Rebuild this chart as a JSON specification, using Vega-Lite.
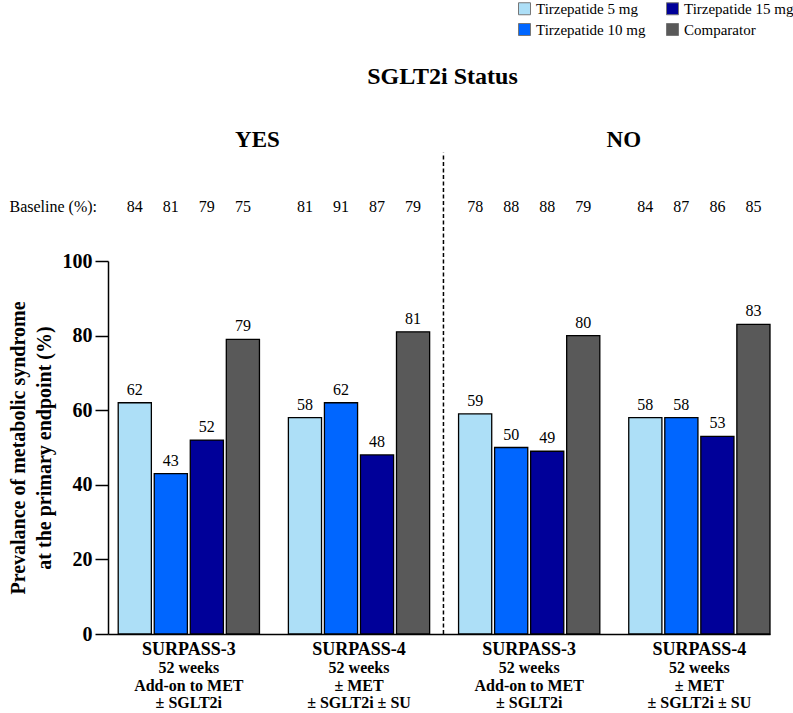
{
  "$schema": "https://vega.github.io/schema/vega-lite/v6.json",
  "width": 662,
  "height": 373,
  "autosize": {"type": "none"},
  "padding": {"left": 108, "top": 261, "right": 23, "bottom": 79},
  "background": "white",
  "config": {
    "font": "'Liberation Serif', 'Times New Roman', Times, serif",
    "text": {"font": "'Liberation Serif', 'Times New Roman', Times, serif"},
    "axis": {"labelFont": "'Liberation Serif', 'Times New Roman', Times, serif", "titleFont": "'Liberation Serif', 'Times New Roman', Times, serif"},
    "legend": {"padding": 0, "labelFont": "'Liberation Serif', 'Times New Roman', Times, serif", "titleFont": "'Liberation Serif', 'Times New Roman', Times, serif"},
    "view": {"stroke": null}
  },
  "datasets": {
    "bars": [
      {"group": "YES|SURPASS-3", "series": "Tirzepatide 5 mg", "value": 62, "baseline": 84},
      {"group": "YES|SURPASS-3", "series": "Tirzepatide 10 mg", "value": 43, "baseline": 81},
      {"group": "YES|SURPASS-3", "series": "Tirzepatide 15 mg", "value": 52, "baseline": 79},
      {"group": "YES|SURPASS-3", "series": "Comparator", "value": 79, "baseline": 75},
      {"group": "YES|SURPASS-4", "series": "Tirzepatide 5 mg", "value": 58, "baseline": 81},
      {"group": "YES|SURPASS-4", "series": "Tirzepatide 10 mg", "value": 62, "baseline": 91},
      {"group": "YES|SURPASS-4", "series": "Tirzepatide 15 mg", "value": 48, "baseline": 87},
      {"group": "YES|SURPASS-4", "series": "Comparator", "value": 81, "baseline": 79},
      {"group": "NO|SURPASS-3", "series": "Tirzepatide 5 mg", "value": 59, "baseline": 78},
      {"group": "NO|SURPASS-3", "series": "Tirzepatide 10 mg", "value": 50, "baseline": 88},
      {"group": "NO|SURPASS-3", "series": "Tirzepatide 15 mg", "value": 49, "baseline": 88},
      {"group": "NO|SURPASS-3", "series": "Comparator", "value": 80, "baseline": 79},
      {"group": "NO|SURPASS-4", "series": "Tirzepatide 5 mg", "value": 58, "baseline": 84},
      {"group": "NO|SURPASS-4", "series": "Tirzepatide 10 mg", "value": 58, "baseline": 87},
      {"group": "NO|SURPASS-4", "series": "Tirzepatide 15 mg", "value": 53, "baseline": 86},
      {"group": "NO|SURPASS-4", "series": "Comparator", "value": 83, "baseline": 85}
    ],
    "groups": [
      {"group": "YES|SURPASS-3", "details": "52 weeks\nAdd-on to MET\n± SGLT2i"},
      {"group": "YES|SURPASS-4", "details": "52 weeks\n± MET\n± SGLT2i ± SU"},
      {"group": "NO|SURPASS-3", "details": "52 weeks\nAdd-on to MET\n± SGLT2i"},
      {"group": "NO|SURPASS-4", "details": "52 weeks\n± MET\n± SGLT2i ± SU"}
    ],
    "notes": [{"note": "x"}]
  },
  "layer": [
    {
      "data": {"name": "bars"},
      "mark": {"type": "bar", "stroke": "black", "strokeWidth": 1.3},
      "encoding": {
        "x": {
          "field": "group", "type": "nominal",
          "scale": {
            "domain": ["YES|SURPASS-3", "YES|SURPASS-4", "NO|SURPASS-3", "NO|SURPASS-4"],
            "paddingInner": 0.17, "paddingOuter": 0.03, "align": 1
          },
          "axis": {
            "title": null,
            "labelExpr": "split(datum.label, '|')[1]",
            "labelFontSize": 18, "labelFontWeight": "bold", "labelColor": "black",
            "labelPadding": 6, "labelAngle": 0,
            "ticks": false, "domainColor": "black", "domainWidth": 1.5
          }
        },
        "xOffset": {
          "field": "series", "type": "nominal",
          "sort": ["Tirzepatide 5 mg", "Tirzepatide 10 mg", "Tirzepatide 15 mg", "Comparator"],
          "scale": {"paddingInner": 0.08, "paddingOuter": 0}
        },
        "y": {
          "field": "value", "type": "quantitative",
          "scale": {"domain": [0, 100], "nice": false},
          "axis": {
            "title": ["Prevalance of metabolic syndrome", "at the primary endpoint (%)"],
            "titleFontSize": 20, "titleFontWeight": "bold", "titleColor": "black",
            "titleLineHeight": 26, "titlePadding": 8,
            "values": [0, 20, 40, 60, 80, 100],
            "grid": false, "tickSize": 13, "tickColor": "black", "tickWidth": 1.5,
            "domainColor": "black", "domainWidth": 1.5,
            "labelFontSize": 20, "labelFontWeight": "bold", "labelColor": "black", "labelPadding": 3
          }
        },
        "color": {
          "field": "series", "type": "nominal",
          "scale": {
            "domain": ["Tirzepatide 5 mg", "Tirzepatide 10 mg", "Tirzepatide 15 mg", "Comparator"],
            "range": ["#ADDFF7", "#0066FF", "#000099", "#595959"]
          },
          "legend": {
            "title": null, "orient": "none", "legendX": 409, "legendY": -260,
            "columns": 2, "columnPadding": 18, "rowPadding": 4,
            "symbolType": "square", "symbolSize": 144, "symbolStrokeColor": "#777777",
            "symbolStrokeWidth": 1, "symbolOpacity": 1,
            "labelFontSize": 15, "labelColor": "black", "labelOffset": 4, "labelLimit": 200
          }
        }
      }
    },
    {
      "data": {"name": "bars"},
      "mark": {"type": "text", "baseline": "alphabetic", "dy": -8, "fontSize": 16, "color": "black"},
      "encoding": {
        "x": {"field": "group", "type": "nominal"},
        "xOffset": {"field": "series", "type": "nominal", "sort": ["Tirzepatide 5 mg", "Tirzepatide 10 mg", "Tirzepatide 15 mg", "Comparator"]},
        "y": {"field": "value", "type": "quantitative"},
        "text": {"field": "value", "type": "quantitative"}
      }
    },
    {
      "data": {"name": "bars"},
      "mark": {"type": "text", "baseline": "middle", "fontSize": 16, "color": "black"},
      "encoding": {
        "x": {"field": "group", "type": "nominal"},
        "xOffset": {"field": "series", "type": "nominal", "sort": ["Tirzepatide 5 mg", "Tirzepatide 10 mg", "Tirzepatide 15 mg", "Comparator"]},
        "y": {"datum": 114.5},
        "text": {"field": "baseline", "type": "quantitative"}
      }
    },
    {
      "data": {"name": "groups"},
      "mark": {"type": "text", "baseline": "top", "fontSize": 16, "fontWeight": "bold", "lineBreak": "\n", "lineHeight": 17.5, "color": "black"},
      "encoding": {
        "x": {"field": "group", "type": "nominal"},
        "y": {"datum": -7},
        "text": {"field": "details", "type": "nominal"}
      }
    },
    {
      "data": {"name": "notes"},
      "mark": {"type": "rule", "strokeDash": [4, 2.5], "strokeWidth": 1.5, "color": "black"},
      "encoding": {
        "x": {"datum": "NO|SURPASS-3", "bandPosition": -0.107},
        "y": {"datum": 0},
        "y2": {"datum": 129}
      }
    },
    {
      "data": {"name": "notes"},
      "mark": {"type": "text", "text": "SGLT2i Status", "fontSize": 24, "fontWeight": "bold", "baseline": "middle", "color": "black"},
      "encoding": {
        "x": {"datum": "NO|SURPASS-3", "bandPosition": -0.114},
        "y": {"datum": 149.3}
      }
    },
    {
      "data": {"name": "notes"},
      "mark": {"type": "text", "text": "YES", "fontSize": 23, "fontWeight": "bold", "baseline": "middle", "color": "black"},
      "encoding": {
        "x": {"datum": "YES|SURPASS-3", "bandPosition": 0.986},
        "y": {"datum": 132.4}
      }
    },
    {
      "data": {"name": "notes"},
      "mark": {"type": "text", "text": "NO", "fontSize": 23, "fontWeight": "bold", "baseline": "middle", "color": "black"},
      "encoding": {
        "x": {"datum": "NO|SURPASS-3", "bandPosition": 1.17},
        "y": {"datum": 132.4}
      }
    },
    {
      "data": {"name": "notes"},
      "mark": {"type": "text", "text": "Baseline (%):", "fontSize": 16, "align": "right", "baseline": "middle", "color": "black"},
      "encoding": {
        "x": {"datum": "YES|SURPASS-3", "bandPosition": -0.15},
        "y": {"datum": 114.5}
      }
    }
  ]
}
